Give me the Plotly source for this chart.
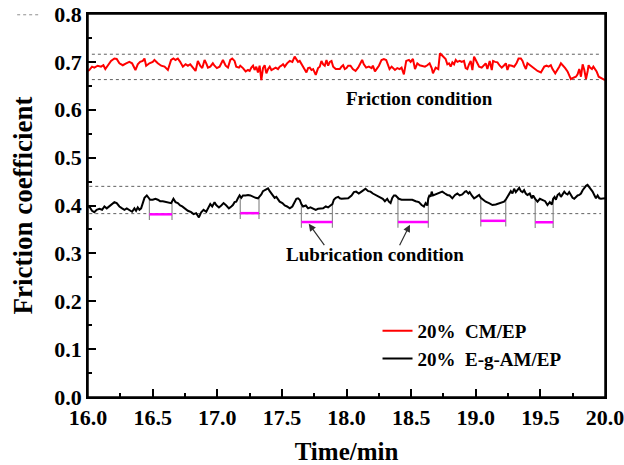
import numpy as np
import plotly.graph_objects as go

# ---------------- data ----------------
red_time = [
    16.000, 16.010, 16.031, 16.049, 16.075, 16.101, 16.119, 16.134, 16.152, 16.178,
    16.204, 16.222, 16.243, 16.269, 16.295, 16.320, 16.341, 16.367, 16.385, 16.403,
    16.424, 16.437, 16.450, 16.475, 16.501, 16.514, 16.540, 16.566, 16.592, 16.618,
    16.643, 16.661, 16.677, 16.695, 16.713, 16.734, 16.755, 16.773, 16.791, 16.811,
    16.832, 16.850, 16.868, 16.884, 16.902, 16.915, 16.928, 16.946, 16.966, 16.979,
    16.997, 17.018, 17.044, 17.065, 17.083, 17.101, 17.116, 17.134, 17.147, 17.168,
    17.178, 17.199, 17.220, 17.238, 17.251, 17.264, 17.277, 17.289, 17.302, 17.315,
    17.328, 17.341, 17.354, 17.367, 17.380, 17.393, 17.406, 17.419, 17.432, 17.452,
    17.470, 17.483, 17.496, 17.509, 17.522, 17.540, 17.561, 17.581, 17.599, 17.612,
    17.625, 17.638, 17.659, 17.677, 17.690, 17.703, 17.716, 17.729, 17.742, 17.762,
    17.780, 17.793, 17.806, 17.819, 17.832, 17.845, 17.858, 17.871, 17.884, 17.897,
    17.917, 17.936, 17.948, 17.961, 17.974, 17.987, 18.000, 18.013,
    18.031, 18.049, 18.070, 18.090, 18.109, 18.121, 18.134, 18.152, 18.173, 18.194,
    18.204, 18.220, 18.238, 18.251, 18.271, 18.289, 18.307, 18.323, 18.333, 18.349,
    18.359, 18.375, 18.393, 18.411, 18.426, 18.444, 18.462, 18.483, 18.496, 18.514,
    18.530, 18.548, 18.566, 18.586, 18.607, 18.625, 18.643, 18.659, 18.669, 18.690,
    18.710, 18.723, 18.741, 18.754, 18.767, 18.780, 18.793, 18.806, 18.819, 18.832,
    18.845, 18.858, 18.876, 18.891, 18.909, 18.922, 18.935, 18.948, 18.961, 18.974,
    18.987, 19.000, 19.013, 19.026, 19.046, 19.064, 19.077, 19.090, 19.108, 19.124,
    19.134, 19.150, 19.168, 19.186, 19.201, 19.220, 19.233, 19.245, 19.258, 19.279,
    19.297, 19.315, 19.331, 19.349, 19.362, 19.375, 19.388, 19.400, 19.419, 19.439,
    19.452, 19.478, 19.504, 19.530, 19.548, 19.563, 19.581, 19.594, 19.615, 19.633,
    19.646, 19.659, 19.677, 19.692, 19.710, 19.723, 19.736, 19.749, 19.762, 19.775,
    19.788, 19.801, 19.814, 19.827, 19.840, 19.853, 19.866, 19.873, 19.884, 19.899,
    19.910, 19.925, 19.935, 19.951, 19.969, 19.987, 20.000,
]
red_cof = [
    0.681, 0.683, 0.690, 0.688, 0.692, 0.690, 0.693, 0.685, 0.692, 0.702,
    0.707, 0.706, 0.697, 0.693, 0.697, 0.700, 0.697, 0.683, 0.695, 0.700,
    0.702, 0.707, 0.692, 0.697, 0.700, 0.704, 0.697, 0.692, 0.690, 0.683,
    0.704, 0.707, 0.704, 0.707, 0.700, 0.690, 0.695, 0.692, 0.695, 0.688,
    0.681, 0.702, 0.692, 0.687, 0.704, 0.697, 0.688, 0.690, 0.697, 0.692,
    0.687, 0.690, 0.704, 0.692, 0.688, 0.704, 0.707, 0.702, 0.690, 0.688,
    0.692, 0.687, 0.680, 0.683, 0.681, 0.688, 0.692, 0.683, 0.690, 0.678,
    0.692, 0.662, 0.687, 0.693, 0.676, 0.685, 0.690, 0.683, 0.685, 0.688,
    0.685, 0.690, 0.692, 0.695, 0.690, 0.697, 0.702, 0.700, 0.711, 0.706,
    0.700, 0.702, 0.693, 0.685, 0.678, 0.687, 0.688, 0.683, 0.685, 0.673,
    0.687, 0.690, 0.702, 0.695, 0.692, 0.704, 0.692, 0.700, 0.702, 0.690,
    0.685, 0.685, 0.685, 0.690, 0.693, 0.685, 0.687, 0.692,
    0.692, 0.685, 0.681, 0.688, 0.697, 0.704, 0.695, 0.688, 0.690, 0.687,
    0.692, 0.680, 0.687, 0.692, 0.704, 0.706, 0.704, 0.692, 0.685, 0.690,
    0.688, 0.683, 0.687, 0.685, 0.688, 0.674, 0.702, 0.704, 0.700, 0.706,
    0.685, 0.697, 0.693, 0.692, 0.690, 0.693, 0.697, 0.687, 0.676, 0.688,
    0.685, 0.718, 0.713, 0.711, 0.706, 0.695, 0.697, 0.690, 0.699, 0.695,
    0.704, 0.700, 0.702, 0.700, 0.702, 0.687, 0.685, 0.695, 0.702, 0.683,
    0.711, 0.704, 0.695, 0.690, 0.688, 0.693, 0.697, 0.685, 0.702, 0.683,
    0.702, 0.700, 0.699, 0.692, 0.688, 0.693, 0.697, 0.683, 0.693, 0.692,
    0.690, 0.697, 0.707, 0.707, 0.702, 0.692, 0.685, 0.697, 0.693, 0.690,
    0.687, 0.681, 0.678, 0.690, 0.692, 0.690, 0.693, 0.685, 0.676, 0.683,
    0.690, 0.697, 0.692, 0.687, 0.680, 0.671, 0.664, 0.666, 0.667, 0.669,
    0.674, 0.685, 0.669, 0.695, 0.683, 0.664, 0.681, 0.693, 0.688, 0.685,
    0.690, 0.685, 0.680, 0.669, 0.666, 0.663, 0.662,
]

black_time = [
    16.000, 16.010, 16.031, 16.049, 16.067, 16.088, 16.109, 16.127, 16.145, 16.165,
    16.186, 16.204, 16.222, 16.243, 16.264, 16.282, 16.300, 16.320, 16.341, 16.359,
    16.372, 16.385, 16.398, 16.411, 16.424, 16.437, 16.455, 16.470, 16.481, 16.501,
    16.522, 16.540, 16.558, 16.579, 16.605, 16.625, 16.643, 16.661, 16.677, 16.695,
    16.713, 16.729, 16.747, 16.773, 16.798, 16.817, 16.837, 16.858, 16.876, 16.894,
    16.915, 16.928, 16.946, 16.961, 16.979, 16.992, 17.013, 17.031, 17.049, 17.070,
    17.090, 17.109, 17.121, 17.134, 17.147, 17.160, 17.173, 17.186, 17.199, 17.220,
    17.238, 17.256, 17.277, 17.297, 17.315, 17.328, 17.341, 17.354, 17.367, 17.380,
    17.393, 17.406, 17.419, 17.432, 17.444, 17.457, 17.470, 17.483, 17.504, 17.522,
    17.540, 17.561, 17.581, 17.599, 17.612, 17.625, 17.638, 17.651, 17.664, 17.685,
    17.703, 17.721, 17.742, 17.762, 17.780, 17.798, 17.819, 17.840, 17.858, 17.876,
    17.891, 17.902, 17.917, 17.936, 17.948, 17.961, 17.979, 18.000, 18.013,
    18.039, 18.057, 18.075, 18.095, 18.116, 18.134, 18.147, 18.168, 18.186, 18.204,
    18.225, 18.245, 18.263, 18.281, 18.297, 18.315, 18.328, 18.341, 18.354, 18.367,
    18.380, 18.393, 18.405, 18.426, 18.452, 18.483, 18.509, 18.535, 18.560, 18.581,
    18.599, 18.612, 18.625, 18.633, 18.643, 18.651, 18.659, 18.669, 18.685, 18.703,
    18.721, 18.741, 18.762, 18.780, 18.798, 18.819, 18.840, 18.858, 18.876, 18.896,
    18.917, 18.927, 18.943, 18.953, 18.969, 18.987, 19.005, 19.026, 19.039, 19.057,
    19.077, 19.103, 19.129, 19.155, 19.181, 19.201, 19.219, 19.232, 19.245, 19.258,
    19.271, 19.284, 19.297, 19.310, 19.323, 19.336, 19.349, 19.362, 19.374, 19.387,
    19.400, 19.418, 19.434, 19.444, 19.460, 19.478, 19.496, 19.517, 19.537, 19.555,
    19.573, 19.589, 19.599, 19.610, 19.620, 19.633, 19.646, 19.659, 19.672, 19.685,
    19.697, 19.710, 19.723, 19.736, 19.749, 19.762, 19.775, 19.788, 19.801, 19.814,
    19.827, 19.840, 19.853, 19.865, 19.878, 19.891, 19.904, 19.917, 19.930, 19.943,
    19.956, 19.969, 19.982, 20.000,
]
black_cof = [
    0.397, 0.398, 0.389, 0.386, 0.391, 0.393, 0.391, 0.398, 0.394, 0.398,
    0.403, 0.407, 0.405, 0.398, 0.394, 0.391, 0.394, 0.391, 0.387, 0.394,
    0.389, 0.396, 0.391, 0.394, 0.407, 0.416, 0.421, 0.416, 0.412, 0.412,
    0.414, 0.412, 0.409, 0.409, 0.408, 0.407, 0.405, 0.414, 0.407, 0.405,
    0.400, 0.398, 0.394, 0.389, 0.386, 0.382, 0.384, 0.375, 0.386, 0.391,
    0.387, 0.394, 0.403, 0.398, 0.407, 0.401, 0.396, 0.400, 0.405, 0.400,
    0.394, 0.398, 0.401, 0.407, 0.408, 0.415, 0.421, 0.416, 0.421, 0.421,
    0.422, 0.421, 0.418, 0.416, 0.415, 0.418, 0.423, 0.430, 0.432, 0.435,
    0.436, 0.430, 0.425, 0.418, 0.416, 0.418, 0.412, 0.408, 0.405, 0.400,
    0.398, 0.394, 0.398, 0.408, 0.414, 0.415, 0.412, 0.403, 0.398, 0.400,
    0.394, 0.396, 0.393, 0.391, 0.393, 0.394, 0.394, 0.398, 0.396, 0.400,
    0.403, 0.412, 0.416, 0.418, 0.415, 0.414, 0.414, 0.415, 0.415,
    0.421, 0.428, 0.429, 0.425, 0.429, 0.432, 0.435, 0.430, 0.429, 0.425,
    0.422, 0.418, 0.415, 0.414, 0.409, 0.414, 0.408, 0.405, 0.416, 0.421,
    0.421, 0.418, 0.414, 0.412, 0.412, 0.412, 0.412, 0.409, 0.407, 0.401,
    0.398, 0.405, 0.400, 0.415, 0.422, 0.418, 0.429, 0.421, 0.423, 0.425,
    0.428, 0.429, 0.425, 0.422, 0.421, 0.415, 0.422, 0.425, 0.421, 0.423,
    0.429, 0.430, 0.425, 0.428, 0.421, 0.415, 0.418, 0.422, 0.416, 0.412,
    0.408, 0.405, 0.401, 0.402, 0.405, 0.407, 0.408, 0.412, 0.418, 0.425,
    0.430, 0.425, 0.435, 0.428, 0.432, 0.437, 0.430, 0.428, 0.432, 0.425,
    0.422, 0.425, 0.415, 0.421, 0.414, 0.408, 0.414, 0.412, 0.409, 0.401,
    0.407, 0.402, 0.414, 0.418, 0.412, 0.422, 0.425, 0.418, 0.425, 0.429,
    0.425, 0.423, 0.428, 0.421, 0.416, 0.414, 0.418, 0.421, 0.422, 0.425,
    0.432, 0.437, 0.441, 0.443, 0.439, 0.435, 0.429, 0.422, 0.415, 0.421,
    0.415, 0.414, 0.414, 0.415,
]

# dotted band limits
red_band = [0.663, 0.716]
black_band = [0.383, 0.440]
red_band_span = [16.03, 19.96]
black_band_span = [16.01, 19.97]

# lubrication intervals (magenta bars)
bar_start = [16.475, 17.178, 17.651, 18.398, 19.039, 19.460]
bar_end = [16.650, 17.323, 17.891, 18.633, 19.232, 19.599]
bar_level = [0.3816, 0.3840, 0.3655, 0.3655, 0.3680, 0.3650]

font_family = "Liberation Serif"

fig = go.Figure()

# dotted reference lines
for band, span in ((red_band, red_band_span), (black_band, black_band_span)):
    for lvl in band:
        fig.add_trace(go.Scatter(x=span, y=[lvl, lvl], mode="lines",
                                 line=dict(color="#606060", width=1, dash="dot"),
                                 showlegend=False, hoverinfo="skip"))

# bracket verticals
vx, vy = [], []
for s, e, lv in zip(bar_start, bar_end, bar_level):
    for t in (s, e):
        top = float(np.interp(t, black_time, black_cof))
        vx += [t, t, None]
        vy += [top, lv - 0.012, None]
fig.add_trace(go.Scatter(x=vx, y=vy, mode="lines", line=dict(color="#8c8c8c", width=1.2),
                         showlegend=False, hoverinfo="skip"))

# magenta bars
mx, my = [], []
for s, e, lv in zip(bar_start, bar_end, bar_level):
    mx += [s, e, None]
    my += [lv, lv, None]
fig.add_trace(go.Scatter(x=mx, y=my, mode="lines", line=dict(color="#ff00ff", width=2.5),
                         showlegend=False, hoverinfo="skip"))

fig.add_trace(go.Scatter(x=red_time, y=red_cof, mode="lines", name="20%  CM/EP",
                         line=dict(color="#ff0000", width=2)))
fig.add_trace(go.Scatter(x=black_time, y=black_cof, mode="lines", name="20%  E-g-AM/EP",
                         line=dict(color="#000000", width=2)))

bold = dict(family=font_family, size=19, color="black", weight="bold")

fig.add_annotation(x=18.566, y=0.624, text="Friction condition", showarrow=False, font=bold)
fig.add_annotation(x=18.217, y=0.297, text="Lubrication condition", showarrow=False, font=bold)
# arrows
fig.add_annotation(x=17.708, y=0.362, ax=17.837, ay=0.314, axref="x", ayref="y",
                   xref="x", yref="y", text="", showarrow=True, arrowhead=2,
                   arrowsize=1.2, arrowwidth=1.2, arrowcolor="#303030")
fig.add_annotation(x=18.491, y=0.360, ax=18.405, ay=0.314, axref="x", ayref="y",
                   xref="x", yref="y", text="", showarrow=True, arrowhead=2,
                   arrowsize=1.2, arrowwidth=1.2, arrowcolor="#303030")

# small dotted mark at top-left
fig.add_shape(type="line", xref="paper", yref="paper", x0=-0.137, x1=-0.093, y0=0.998, y1=0.998,
              line=dict(color="#909090", width=1, dash="dot"))
# plot frame
fig.add_shape(type="rect", xref="paper", yref="paper", x0=0, x1=1, y0=0, y1=1,
              line=dict(color="black", width=1.5), layer="above")

axis_common = dict(
    showline=True, linecolor="black", linewidth=1.5, mirror=True,
    ticks="inside", ticklen=8, tickwidth=1.5, tickcolor="black",
    showgrid=False, zeroline=False, tickformat=".1f", automargin=False,
    ticklabeloverflow="allow",
    tickfont=dict(family=font_family, size=22, color="black", weight="bold"),
)

fig.update_xaxes(range=[16, 20], tick0=16, dtick=0.5,
                 minor=dict(ticks="inside", ticklen=4, tickwidth=1.5, dtick=0.25, tickcolor="black"),
                 title=dict(text="Time/min", standoff=14,
                            font=dict(family=font_family, size=25, color="black", weight="bold")),
                 **axis_common)
fig.update_yaxes(range=[0, 0.8], tick0=0, dtick=0.1,
                 minor=dict(ticks="inside", ticklen=4, tickwidth=1.5, dtick=0.05, tickcolor="black"),
                 title=dict(text="Friction coefficient", standoff=14,
                            font=dict(family=font_family, size=27, color="black", weight="bold")),
                 **axis_common)

fig.update_layout(
    width=624, height=465,
    margin=dict(l=88, r=19, t=14, b=68),
    plot_bgcolor="white", paper_bgcolor="white",
    font=dict(family=font_family, color="black"),
    legend=dict(x=0.56, y=0.222, xanchor="left", yanchor="top",
                font=dict(family=font_family, size=19, color="black", weight="bold"),
                bgcolor="rgba(0,0,0,0)", tracegroupgap=0),
)

fig.write_html("out.html", config={"displayModeBar": False},
               post_script="document.body.style.margin='0px';document.body.style.overflow='hidden';")
